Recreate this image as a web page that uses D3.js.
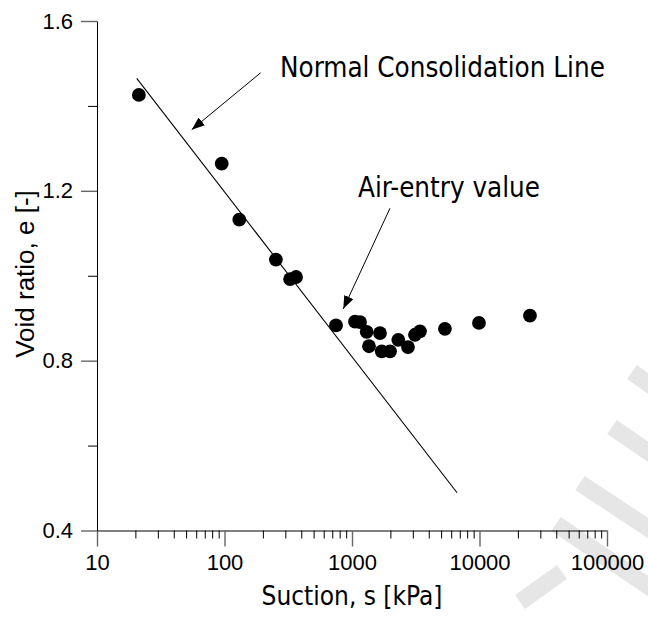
<!DOCTYPE html>
<html><head><meta charset="utf-8">
<script src="https://cdn.jsdelivr.net/npm/d3@7"></script>
<style>body{margin:0;background:#fff}</style>
</head><body>
<svg id="chart" width="648" height="617"></svg>
<script>
// ---- data ----
const suction   = [21.3, 95.1, 130.6, 253, 327, 364, 749, 1056, 1156, 1303, 1359, 1658, 1711, 1986, 2307, 2749, 3119, 3412, 5356, 9905, 24880];
const voidRatio = [1.426, 1.264, 1.132, 1.038, 0.992, 0.997, 0.883, 0.892, 0.891, 0.868, 0.834, 0.865, 0.822, 0.822, 0.849, 0.832, 0.861, 0.869, 0.875, 0.889, 0.906];
const nclSuction = [20.5, 6670];
const nclVoid    = [1.465, 0.489];
const xTickValues = [10, 100, 1000, 10000, 100000];
const xTickLabels = ["10", "100", "1000", "10000", "100000"];
const yTickValues = [0.4, 0.8, 1.2, 1.6];
const yTickLabels = ["0.4", "0.8", "1.2", "1.6"];
const yMinorValues = [0.6, 1.0, 1.4];
const annotationTexts = ["Normal Consolidation Line", "Air-entry value"];
const arrowTailS = [192, 1986];
const arrowTailE = [1.478, 1.159];
const arrowTipS  = [55.3, 855];
const arrowTipE  = [1.344, 0.922];
const xTitle = "Suction, s [kPa]";
const yTitle = "Void ratio, e [-]";

// ---- layout ----
const svg = d3.select("#chart");
const mLeft = 97, mRight = 607, mTop = 21, mBottom = 530.5;
const x = d3.scaleLog().domain([10, 100000]).range([mLeft, mRight]);
const y = d3.scaleLinear().domain([0.4, 1.6]).range([mBottom, mTop]);

// watermark (light grey strokes)
const wm = svg.append("g").attr("stroke", "#e6e6e6").attr("stroke-width", 17).attr("fill", "none");
[[[612,427],[660,460]], [[580,483],[660,536]], [[556,524],[660,594]], [[520,602],[562,572]], [[632,372],[660,392]]].forEach(seg => {
  wm.append("line").attr("x1", seg[0][0]).attr("y1", seg[0][1]).attr("x2", seg[1][0]).attr("y2", seg[1][1]);
});

// minor x ticks
const minorX = [];
for (let d = 10; d < 100000; d *= 10) for (let k = 2; k <= 9; k++) minorX.push(d * k);

const tickFont = "Liberation Sans, Arial, sans-serif";
const gx = svg.append("g").attr("transform", `translate(0,${mBottom})`);
gx.call(d3.axisBottom(x).tickValues(minorX).tickSize(8).tickFormat(""))
  .call(g => g.select(".domain").remove());
gx.selectAll(".tick line").attr("stroke", "#000");
const gx2 = svg.append("g").attr("transform", `translate(0,${mBottom})`);
gx2.call(d3.axisBottom(x).tickValues(xTickValues).tickSize(16).tickPadding(8)
    .tickFormat((d, i) => xTickLabels[i]).tickSizeOuter(0));
gx2.select(".domain").attr("stroke", "#000");
gx2.selectAll(".tick line").attr("stroke", "#666").attr("stroke-width", 1.4);
gx2.selectAll(".tick text").attr("font-family", tickFont).attr("font-size", 22).attr("fill", "#000");

const gy = svg.append("g").attr("transform", `translate(${mLeft},0)`);
gy.call(d3.axisLeft(y).tickValues(yMinorValues).tickSize(9).tickFormat(""))
  .call(g => g.select(".domain").remove());
gy.selectAll(".tick line").attr("stroke", "#000");
const gy2 = svg.append("g").attr("transform", `translate(${mLeft},0)`);
gy2.call(d3.axisLeft(y).tickValues(yTickValues).tickSize(16).tickPadding(8)
    .tickFormat((d, i) => yTickLabels[i]).tickSizeOuter(0));
gy2.select(".domain").attr("stroke", "#000");
gy2.selectAll(".tick line").attr("stroke", "#666").attr("stroke-width", 1.4);
gy2.selectAll(".tick text").attr("font-family", tickFont).attr("font-size", 22).attr("fill", "#000");

// NCL line
svg.append("line")
  .attr("x1", x(nclSuction[0])).attr("y1", y(nclVoid[0]))
  .attr("x2", x(nclSuction[1])).attr("y2", y(nclVoid[1]))
  .attr("stroke", "#000").attr("stroke-width", 1.1);

// points
svg.append("g").selectAll("circle").data(suction).join("circle")
  .attr("cx", d => x(d)).attr("cy", (d, i) => y(voidRatio[i])).attr("r", 6.9).attr("fill", "#000");

// arrows
const defs = svg.append("defs");
defs.append("marker").attr("id", "ah").attr("viewBox", "0 0 13 10").attr("refX", 13).attr("refY", 5)
  .attr("markerWidth", 13).attr("markerHeight", 10).attr("markerUnits", "userSpaceOnUse").attr("orient", "auto")
  .append("path").attr("d", "M0,0L13,5L0,10Z").attr("fill", "#000");
arrowTailS.forEach((s, i) => {
  svg.append("line")
    .attr("x1", x(s)).attr("y1", y(arrowTailE[i]))
    .attr("x2", x(arrowTipS[i])).attr("y2", y(arrowTipE[i]))
    .attr("stroke", "#000").attr("stroke-width", 1).attr("marker-end", "url(#ah)");
});

// annotation texts
const annFont = "DejaVu Sans Condensed, DejaVu Sans, sans-serif";
svg.append("text").attr("x", 280).attr("y", 77).attr("font-family", annFont).attr("font-size", 27.5)
  .attr("font-stretch", "condensed").text(annotationTexts[0]);
svg.append("text").attr("x", 358).attr("y", 197).attr("font-family", annFont).attr("font-size", 27.5)
  .attr("font-stretch", "condensed").text(annotationTexts[1]);

// axis titles
svg.append("text").attr("x", x(1000)).attr("y", 605).attr("text-anchor", "middle")
  .attr("font-family", annFont).attr("font-stretch", "condensed").attr("font-size", 26).text(xTitle);
svg.append("text").attr("transform", `translate(34,274) rotate(-90)`).attr("text-anchor", "middle")
  .attr("font-family", tickFont).attr("font-size", 26).text(yTitle);
</script>
</body></html>
